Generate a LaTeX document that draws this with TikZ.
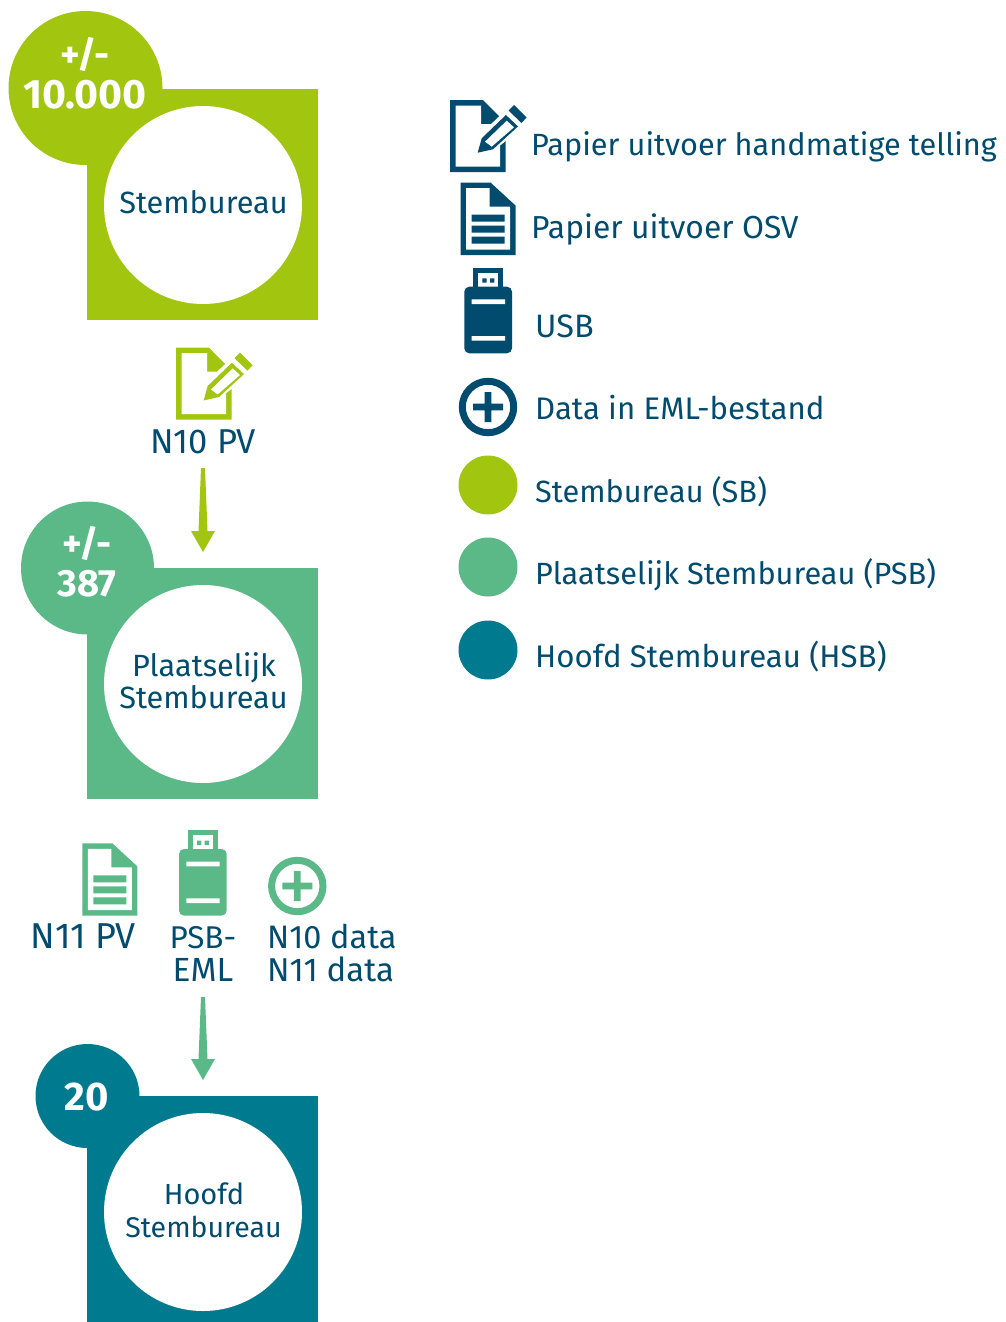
\documentclass[tikz,border=0pt]{standalone}
\usepackage{fontspec}
\setmainfont{Fira Sans}
\usetikzlibrary{calc}
\definecolor{lime}{HTML}{A2C510}
\definecolor{psbgreen}{HTML}{5AB987}
\definecolor{teal}{HTML}{007A8E}
\definecolor{navy}{HTML}{004B6E}
\newcommand\pendoc[3]{\begin{scope}[shift={(#1,#2)}]
 \fill[#3] (0,0)--(33,0)--(55.7,23)--(55.7,72)--(0,72)--cycle;
 \fill[white] (5.5,5.5)--(31,5.5)--(31,24)--(50.2,24)--(50.2,66.5)--(5.5,66.5)--cycle;
 \fill[white] (24,55)--(28.5,36)--(59,7)--(80,22)--(50.7,45)--cycle;
 \fill[#3] (27.7,52.7)--(31.7,38.3)--(58.3,12.7)--(71.7,23)--(43,49.3)--cycle;
 \fill[white] (35,41.7)--(56.7,20.7)--(64,27.3)--(41.7,46.7)--cycle;
 \fill[white] (56,9)--(76,26)--(72,30)--(54,13)--cycle;
 \fill[#3] (64,5)--(76.5,17.5)--(71.5,23)--(58.5,10.5)--cycle;
\end{scope}}
\newcommand\plaindoc[3]{\begin{scope}[shift={(#1,#2)}]
 \fill[#3] (0,0)--(30,0)--(55,23)--(55,72.3)--(0,72.3)--cycle;
 \fill[white] (5.5,5.5)--(29,5.5)--(29,24)--(49.5,24)--(49.5,66.8)--(5.5,66.8)--cycle;
 \fill[#3] (11,32) rectangle (44,39) (11,43) rectangle (44,50) (11,54) rectangle (44,61);
\end{scope}}
\newcommand\usbicon[3]{\begin{scope}[shift={(#1,#2)}]
 \fill[#3] (9,0) rectangle (39,22);
 \fill[white] (14,5) rectangle (34,19.5);
 \fill[#3] (18,10.7) rectangle (22.3,15) (25.7,10.7) rectangle (30,15);
 \fill[#3,rounded corners=5pt] (0,19) rectangle (47.7,85.6);
 \fill[white] (7.3,31.7) rectangle (40.7,36.3) (7.3,68.3) rectangle (40.7,73);
\end{scope}}
\newcommand\plusicon[3]{\begin{scope}[shift={(#1,#2)}]
 \draw[#3,line width=7pt] (0,0) circle[radius=25.7];
 \fill[#3] (-15,-3.4) rectangle (15,3.4) (-3.4,-15) rectangle (3.4,15);
\end{scope}}
\newcommand\tapered[3]{\fill[#3] ($(#1)+(-2,0)$)--($(#1)+(2,0)$)--($(#2)+(4.5,-21)$)--($(#2)+(12,-21)$)--(#2)--($(#2)+(-12,-21)$)--($(#2)+(-4.5,-21)$)--cycle;}
\tikzset{
 lbl/.style={font=\fontsize{#1}{#1}\selectfont,text=navy,inner sep=0pt,anchor=base},
 lbl/.default=30.7,
 leg/.style={font=\fontsize{#1}{#1}\selectfont,text=navy,inner sep=0pt,anchor=base west},
 leg/.default=30.7,
 cnt/.style={font=\fontsize{#1}{#1}\selectfont\bfseries,text=white,inner sep=0pt,anchor=base},
 cnt/.default=38,
 hole/.style={circle,fill=white,minimum size=198pt,inner sep=0pt}
}
\begin{document}
\begin{tikzpicture}[x=1pt,y=-1pt]
\useasboundingbox (0,0) rectangle (1005,1322);
% blocks
\fill[lime] (87,89) rectangle (318,320);
\fill[lime] (85.5,88) circle[radius=77];
\node[hole] (sbc) at (203,205) {};
\fill[psbgreen] (87,568) rectangle (318,799);
\fill[psbgreen] (87.5,568) circle[radius=66.5];
\node[hole] (psbc) at (203,684) {};
\fill[teal] (87,1096) rectangle (318,1322);
\fill[teal] (87.5,1096) circle[radius=52];
\node[hole] (hsbc) at (203,1212) {};
% block texts
\node[cnt=37] (c1a) at (85,67) {+/-};
\node[cnt=41] (c1b) at (85,108) {10.000};
\node[cnt=37] (c2a) at (87,556) {+/-};
\node[cnt=38] (c2b) at (87,596.5) {387};
\node[cnt=40] (c3) at (87,1110.5) {20};
\node[lbl] (t1) at (203.5,213.5) {Stembureau};
\node[lbl] (t2a) at (204,676) {Plaatselijk};
\node[lbl] (t2b) at (203.5,708.5) {Stembureau};
\node[lbl=29] (t3a) at (204,1204.5) {Hoofd};
\node[lbl=28.5] (t3b) at (203.5,1237.5) {Stembureau};
% between
\pendoc{176}{347.7}{lime}
\node[lbl=34.5] (n10) at (203,453.5) {N10 PV};
\coordinate (a1s) at (203,468);
\coordinate (a1e) at (203,552);
\tapered{a1s}{a1e}{lime}
\plaindoc{82.3}{843.3}{psbgreen}
\usbicon{179}{830}{psbgreen}
\plusicon{297.3}{886}{psbgreen}
\node[lbl=36] (n11) at (83,948.5) {N11 PV};
\node[lbl=31.5] (psb) at (203,948) {PSB-};
\node[lbl=33.5] (eml) at (203,981) {EML};
\node[lbl=32.5,anchor=base west] (d10) at (267,948) {N10 data};
\node[lbl=33,anchor=base west] (d11) at (267,981) {N11 data};
\coordinate (a2s) at (203,997);
\coordinate (a2e) at (203,1080);
\tapered{a2s}{a2e}{psbgreen}
% legend
\pendoc{450}{100}{navy}
\plaindoc{460.7}{182.7}{navy}
\usbicon{464.3}{267.7}{navy}
\plusicon{488}{407}{navy}
\node[circle,fill=lime,minimum size=59pt,inner sep=0pt] (l1) at (488,485) {};
\node[circle,fill=psbgreen,minimum size=59pt,inner sep=0pt] (l2) at (488,567) {};
\node[circle,fill=teal,minimum size=59pt,inner sep=0pt] (l3) at (488,650) {};
\node[leg] (g1) at (531,155.5) {Papier uitvoer handmatige telling};
\node[leg=31.8] (g2) at (531,238.5) {Papier uitvoer OSV};
\node[leg=32.4] (g3) at (535,337) {USB};
\node[leg=31.2] (g4) at (535,419.5) {Data in EML-bestand};
\node[leg] (g5) at (535,502.5) {Stembureau (SB)};
\node[leg] (g6) at (535,584.5) {Plaatselijk Stembureau (PSB)};
\node[leg=31.2] (g7) at (535,667.5) {Hoofd Stembureau (HSB)};
\end{tikzpicture}
\end{document}
